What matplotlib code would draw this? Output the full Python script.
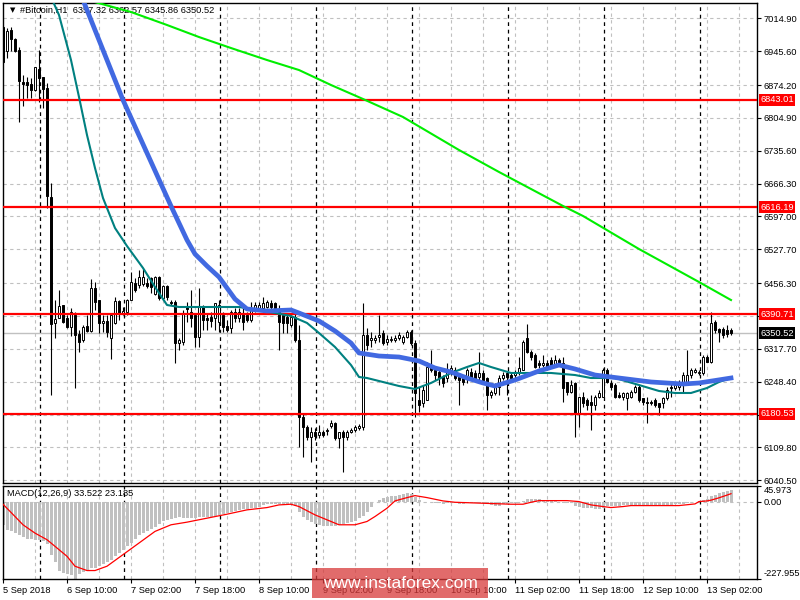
import numpy as np
import matplotlib.pyplot as plt
from matplotlib.patches import Rectangle

plt.rcParams['font.family'] = ['Liberation Sans', 'DejaVu Sans']

# H1 candles, bar 0 = first visible bar
opens = [6996.5, 6945.9, 6990.2, 6971.2, 6948.0, 6880.5, 6880.5, 6876.3, 6863.6, 6907.9,
         6891.1, 6867.9, 6637.9, 6372.3, 6382.7, 6410.1, 6382.7, 6363.7, 6389.0, 6348.9,
         6336.3, 6365.8, 6355.3, 6445.9, 6420.6, 6372.2, 6376.4, 6340.5, 6372.2, 6418.5,
         6393.2, 6395.3, 6420.6, 6456.5, 6452.3, 6454.4, 6456.5, 6467.0, 6433.3, 6469.1,
         6424.9, 6450.2, 6416.4, 6416.4, 6329.9, 6332.1, 6405.9, 6395.3, 6389.0, 6342.6,
         6405.9, 6382.7, 6384.8, 6382.7, 6374.3, 6389.0, 6365.8, 6361.6, 6395.3, 6382.7,
         6393.2, 6389.0, 6378.5, 6399.6, 6403.8, 6403.8, 6405.9, 6414.3, 6414.3, 6399.6,
         6389.0, 6384.8, 6367.9, 6384.8, 6336.3, 6173.8, 6152.7, 6131.6, 6142.2, 6135.8,
         6142.2, 6144.3, 6154.8, 6161.2, 6129.5, 6142.2, 6131.6, 6142.2, 6146.4, 6150.6,
         6152.7, 6346.8, 6336.3, 6336.3, 6342.6, 6351.0, 6332.1, 6336.3, 6336.3, 6340.5,
         6332.1, 6342.6, 6353.1, 6329.9, 6209.7, 6203.4, 6209.7, 6283.5, 6273.0, 6268.8,
         6258.2, 6256.1, 6268.8, 6273.0, 6258.2, 6256.1, 6258.2, 6268.8, 6266.7, 6258.2,
         6266.7, 6256.1, 6220.3, 6224.5, 6237.1, 6256.1, 6266.7, 6262.4, 6262.4, 6268.8,
         6273.0, 6340.5, 6311.0, 6304.6, 6287.8, 6283.5, 6287.8, 6294.1, 6283.5, 6294.1,
         6287.8, 6247.7, 6226.6, 6245.6, 6182.3, 6216.0, 6209.7, 6205.5, 6199.1, 6216.0,
         6216.0, 6273.0, 6245.6, 6241.3, 6220.3, 6216.0, 6213.9, 6216.0, 6226.6, 6237.1,
         6213.9, 6205.5, 6205.5, 6209.7, 6203.4, 6203.4, 6213.9, 6237.1, 6235.0, 6237.1,
         6245.6, 6247.7, 6262.4, 6268.8, 6266.7, 6266.7, 6300.4, 6289.9, 6374.3, 6359.5,
         6359.5, 6357.4, 6357.32]
highs = [6998.6, 6994.4, 6996.5, 6973.3, 6954.4, 6895.3, 6891.1, 6889.0, 6912.2, 6948.0,
         6891.1, 6878.4, 6667.5, 6420.6, 6441.7, 6410.1, 6389.0, 6403.8, 6395.3, 6357.4,
         6367.9, 6389.0, 6464.9, 6458.6, 6420.6, 6389.0, 6389.0, 6389.0, 6427.0, 6420.6,
         6405.9, 6422.8, 6479.7, 6467.0, 6483.9, 6486.0, 6467.0, 6469.1, 6471.3, 6471.3,
         6452.3, 6452.3, 6420.6, 6420.6, 6340.5, 6399.6, 6416.4, 6441.7, 6393.2, 6445.9,
         6410.1, 6393.2, 6395.3, 6414.3, 6420.6, 6395.3, 6378.5, 6399.6, 6403.8, 6403.8,
         6403.8, 6395.3, 6416.4, 6416.4, 6416.4, 6427.0, 6420.6, 6420.6, 6416.4, 6410.1,
         6393.2, 6389.0, 6389.0, 6393.2, 6367.9, 6182.3, 6156.9, 6152.7, 6150.6, 6156.9,
         6146.4, 6150.6, 6167.5, 6163.3, 6142.2, 6146.4, 6146.4, 6150.6, 6156.9, 6159.1,
         6414.3, 6361.6, 6353.1, 6346.8, 6389.0, 6357.4, 6346.8, 6344.7, 6346.8, 6353.1,
         6346.8, 6357.4, 6357.4, 6336.3, 6237.1, 6241.3, 6289.9, 6315.2, 6277.2, 6279.3,
         6262.4, 6287.8, 6283.5, 6279.3, 6262.4, 6262.4, 6277.2, 6277.2, 6273.0, 6311.0,
         6273.0, 6258.2, 6230.8, 6245.6, 6262.4, 6268.8, 6268.8, 6268.8, 6273.0, 6300.4,
         6336.3, 6370.0, 6315.2, 6308.9, 6294.1, 6304.6, 6294.1, 6300.4, 6304.6, 6298.3,
         6300.4, 6247.7, 6251.9, 6247.7, 6216.0, 6226.6, 6213.9, 6220.3, 6220.3, 6230.8,
         6277.2, 6277.2, 6251.9, 6245.6, 6226.6, 6226.6, 6226.6, 6230.8, 6241.3, 6241.3,
         6213.9, 6216.0, 6209.7, 6213.9, 6203.4, 6216.0, 6237.1, 6245.6, 6245.6, 6251.9,
         6268.8, 6315.2, 6277.2, 6277.2, 6273.0, 6304.6, 6304.6, 6395.3, 6378.5, 6361.6,
         6363.7, 6367.9, 6362.57]
lows = [6920.6, 6931.2, 6945.9, 6943.8, 6796.1, 6829.9, 6846.8, 6846.8, 6861.5, 6838.3,
        6825.7, 6614.7, 6220.3, 6340.5, 6382.7, 6372.2, 6361.6, 6344.7, 6235.0, 6311.0,
        6332.1, 6353.1, 6353.1, 6399.6, 6351.0, 6353.1, 6342.6, 6296.2, 6370.0, 6378.5,
        6389.0, 6389.0, 6420.6, 6437.5, 6446.0, 6450.2, 6446.0, 6435.4, 6431.2, 6420.6,
        6420.6, 6420.6, 6410.1, 6287.8, 6315.2, 6325.7, 6374.3, 6363.7, 6321.5, 6321.5,
        6357.4, 6357.4, 6363.7, 6357.4, 6353.1, 6353.1, 6353.1, 6351.0, 6374.3, 6374.3,
        6357.4, 6374.3, 6374.3, 6395.3, 6399.6, 6399.6, 6403.8, 6399.6, 6399.6, 6315.2,
        6351.0, 6351.0, 6363.7, 6332.1, 6110.5, 6089.4, 6125.3, 6078.9, 6125.3, 6129.5,
        6131.6, 6135.8, 6150.6, 6125.3, 6108.4, 6057.8, 6125.3, 6140.1, 6142.2, 6146.4,
        6146.4, 6315.2, 6321.5, 6329.9, 6332.1, 6325.7, 6325.7, 6332.1, 6332.1, 6336.3,
        6327.8, 6340.5, 6325.7, 6173.8, 6184.4, 6195.0, 6209.7, 6268.8, 6251.9, 6241.3,
        6237.1, 6247.7, 6262.4, 6251.9, 6199.1, 6241.3, 6245.6, 6251.9, 6251.9, 6251.9,
        6247.7, 6188.6, 6213.9, 6220.3, 6220.3, 6251.9, 6220.3, 6247.7, 6256.1, 6262.4,
        6273.0, 6308.9, 6294.1, 6277.2, 6277.2, 6279.3, 6273.0, 6277.2, 6279.3, 6283.5,
        6205.5, 6220.3, 6224.5, 6131.6, 6152.7, 6195.0, 6188.6, 6146.4, 6188.6, 6213.9,
        6216.0, 6245.6, 6230.8, 6213.9, 6213.9, 6209.7, 6188.6, 6213.9, 6224.5, 6205.5,
        6199.1, 6161.2, 6199.1, 6195.0, 6178.0, 6192.9, 6209.7, 6216.0, 6230.8, 6230.8,
        6224.5, 6245.6, 6256.1, 6266.7, 6262.4, 6262.4, 6289.9, 6287.8, 6351.0, 6332.1,
        6340.5, 6342.6, 6345.86]
closes = [6922.7, 6988.1, 6971.2, 6945.9, 6882.6, 6876.3, 6874.2, 6863.6, 6912.2, 6889.0,
          6865.8, 6640.0, 6370.0, 6380.6, 6408.0, 6374.3, 6363.7, 6395.3, 6346.8, 6332.1,
          6363.7, 6355.3, 6445.9, 6416.4, 6372.2, 6376.4, 6353.1, 6389.0, 6418.5, 6393.2,
          6397.4, 6420.6, 6458.6, 6441.7, 6469.1, 6469.1, 6450.2, 6448.1, 6469.1, 6424.9,
          6450.2, 6427.0, 6414.3, 6329.9, 6336.3, 6393.2, 6401.7, 6382.7, 6342.6, 6405.9,
          6378.5, 6378.5, 6376.4, 6414.3, 6410.1, 6363.7, 6357.4, 6395.3, 6382.7, 6395.3,
          6374.3, 6378.5, 6399.6, 6410.1, 6410.1, 6414.3, 6416.4, 6405.9, 6403.8, 6374.3,
          6372.2, 6372.2, 6384.8, 6336.3, 6173.8, 6152.7, 6131.6, 6142.2, 6133.7, 6142.2,
          6135.8, 6146.4, 6161.2, 6129.5, 6142.2, 6131.6, 6142.2, 6146.4, 6152.7, 6154.8,
          6346.8, 6325.7, 6340.5, 6340.5, 6346.8, 6329.9, 6338.4, 6338.4, 6340.5, 6346.8,
          6342.6, 6353.1, 6329.9, 6224.5, 6199.1, 6230.8, 6279.3, 6273.0, 6262.4, 6256.1,
          6245.6, 6268.8, 6277.2, 6256.1, 6251.9, 6247.7, 6273.0, 6256.1, 6256.1, 6266.7,
          6251.9, 6220.3, 6226.6, 6237.1, 6256.1, 6262.4, 6258.2, 6256.1, 6268.8, 6277.2,
          6332.1, 6311.0, 6300.4, 6279.3, 6283.5, 6287.8, 6277.2, 6283.5, 6294.1, 6287.8,
          6235.0, 6226.6, 6241.3, 6182.3, 6216.0, 6203.4, 6199.1, 6199.1, 6216.0, 6224.5,
          6273.0, 6247.7, 6237.1, 6216.0, 6216.0, 6224.5, 6224.5, 6226.6, 6237.1, 6209.7,
          6205.5, 6203.4, 6203.4, 6199.1, 6195.0, 6213.9, 6230.8, 6235.0, 6241.3, 6245.6,
          6262.4, 6262.4, 6273.0, 6273.0, 6268.8, 6300.4, 6289.9, 6372.2, 6357.4, 6353.1,
          6346.8, 6348.9, 6350.52]

# moving averages (bar index, price)
blue_bars = [20, 26, 30, 36, 42, 46, 48, 51, 54, 58, 61, 66, 72, 74, 79, 83, 87, 89, 94, 99,
             104, 108, 112, 116, 120, 123, 128, 134, 139, 143, 148, 154, 162, 170, 174, 178,
             182]
blue_vals = [7053.5, 6926.9, 6842.5, 6730.7, 6618.9, 6547.2, 6517.7, 6492.4, 6469.1, 6422.7,
             6401.7, 6397.5, 6399.6, 6393.2, 6376.4, 6355.3, 6329.9, 6308.9, 6302.5, 6300.4,
             6292.0, 6277.2, 6268.8, 6256.1, 6245.6, 6239.2, 6251.9, 6270.9, 6283.5, 6275.1,
             6262.4, 6256.1, 6247.7, 6243.4, 6245.6, 6250.8, 6256.1]
teal_bars = [12, 14, 17, 19, 21, 23, 25, 28, 31, 35, 38, 41, 44, 50, 59, 68, 72, 76, 79, 83,
             87, 89, 91, 99, 103, 107, 112, 116, 119, 122, 127, 137, 143, 147, 153, 159, 164,
             168, 172, 176, 179, 182]
teal_vals = [7060.0, 7021.9, 6926.9, 6848.9, 6768.7, 6699.1, 6635.8, 6572.5, 6534.5, 6488.2,
             6448.1, 6410.1, 6405.9, 6405.9, 6405.9, 6393.2, 6386.9, 6372.2, 6351.0, 6321.5,
             6283.5, 6258.2, 6256.1, 6239.2, 6232.9, 6245.6, 6266.7, 6279.3, 6287.8, 6279.3,
             6266.7, 6266.7, 6262.4, 6256.1, 6256.1, 6241.3, 6228.7, 6224.5, 6224.5, 6235.0,
             6247.7, 6256.1]
green_bars = [22, 32, 41, 49, 57, 66, 74, 82, 90, 100, 114, 124, 140, 145, 159, 174, 182]
green_vals = [7051.4, 7028.2, 7000.8, 6975.4, 6952.2, 6926.9, 6905.8, 6874.2, 6844.7, 6806.7,
              6737.1, 6690.7, 6619.0, 6597.9, 6528.2, 6458.6, 6420.6]

# MACD(12,26,9): histogram per bar and signal line
macd_hist = [-70.9, -83.6, -88.5, -93.5, -100.3, -106.2, -110.1, -111.1, -113.1, -113.1,
             -118.0, -125.8, -157.3, -178.9, -206.3, -211.3, -214.2, -218.0, -227.955, -214.2,
             -208.3, -201.4, -196.5, -196.5, -191.6, -184.8, -178.9, -172.0, -162.2, -152.4,
             -142.5, -132.7, -122.9, -110.1, -100.3, -93.5, -86.6, -80.7, -76.8, -66.9,
             -59.1, -54.2, -51.2, -49.3, -47.3, -49.3, -49.3, -49.3, -49.3, -47.3,
             -47.3, -45.4, -44.4, -41.4, -39.5, -37.5, -34.5, -31.6, -27.7, -24.7,
             -22.8, -21.8, -19.8, -17.9, -15.9, -10.0, -8.0, -7.1, -6.1, -7.1,
             -8.0, -8.0, -10.0, -12.0, -29.6, -44.4, -54.2, -61.1, -66.9, -70.9,
             -73.8, -73.8, -73.8, -71.9, -68.9, -66.9, -64.0, -61.1, -57.1, -49.3,
             -41.4, -29.6, -14.9, -2.1, 4.7, 9.6, 12.6, 15.5, 17.5, 19.4,
             22.4, 24.3, 21.4, 14.5, 4.7, -0.5, -2.2, -2.2, -3.1, -5.1,
             -7.1, -5.1, -5.1, -5.1, -6.1, -6.1, -5.1, -5.1, -5.1, -5.1,
             -5.1, -5.1, -10.0, -12.0, -12.0, -6.0, -6.0, -5.0, -4.0, -2.0,
             3.0, 6.0, 8.0, 8.0, 7.0, 5.0, 3.0, 2.0, 1.0, -1.0,
             -3.0, -5.0, -5.0, -12.0, -15.0, -17.9, -19.8, -19.8, -21.8, -21.8,
             -19.8, -14.0, -13.0, -12.0, -12.0, -11.0, -11.0, -11.0, -10.0, -11.0,
             -12.0, -13.0, -13.0, -13.0, -12.0, -11.0, -10.0, -9.0, -8.0, -7.0,
             -6.0, -4.0, -2.0, 0.0, 3.0, 5.0, 8.0, 15.0, 20.0, 25.0,
             28.0, 31.0, 33.522]
sig_bars = [0, 3, 5, 8, 11, 13, 16, 18, 21, 23, 26, 30, 34, 38, 42, 46, 51, 56, 61, 66,
            69, 72, 74, 78, 82, 84, 88, 91, 93, 96, 98, 101, 103, 106, 110, 113, 120, 127,
            130, 132, 134, 141, 144, 147, 150, 152, 155, 157, 169, 173, 174, 176, 177, 179,
            181, 182]
sig_vals = [-8.0, -44.4, -68.9, -93.5, -113.1, -132.7, -162.2, -191.6, -204.4, -204.4,
            -191.6, -157.3, -122.9, -88.5, -68.9, -61.1, -49.3, -37.5, -24.7, -17.9,
            -10.0, -8.0, -14.9, -39.5, -59.1, -68.9, -68.9, -59.1, -44.4, -19.8,
            1.8, 11.6, 17.5, 11.6, 1.8, -2.2, -5.1, -8.0, -8.0, -2.2,
            2.7, 2.7, -0.2, -10.0, -14.9, -17.9, -14.9, -12.0, -12.0, -7.1,
            -0.2, 1.8, 4.0, 11.0, 19.0, 23.185]

levels = [6843.01, 6616.19, 6390.71, 6180.53]
last_price = 6350.52
price_ticks = [7014.90, 6945.60, 6874.20, 6804.90, 6735.60, 6666.30, 6597.00, 6527.70,
               6456.30, 6387.00, 6317.70, 6248.40, 6179.10, 6109.80, 6040.50]
hidden_ticks = [6387.00, 6179.10]  # covered by the level boxes in the terminal
date_labels = ['5 Sep 2018', '6 Sep 10:00', '7 Sep 02:00', '7 Sep 18:00', '8 Sep 10:00',
               '9 Sep 02:00', '9 Sep 18:00', '10 Sep 10:00', '11 Sep 02:00', '11 Sep 18:00',
               '12 Sep 10:00', '13 Sep 02:00']
day_starts = [9, 30, 54, 78, 102, 126, 150, 174]

n = len(closes)
idx = np.arange(n)
o = np.array(opens)
h = np.array(highs)
l = np.array(lows)
c = np.array(closes)

FS = 6.7

fig = plt.figure(figsize=(8, 6), dpi=100)
ax = fig.add_axes([3 / 800, 117 / 600, 754 / 800, 480 / 600])
ax2 = fig.add_axes([3 / 800, 21.5 / 600, 754 / 800, 92.5 / 600], sharex=ax)

grid_kw = dict(color='#C0C0C0', lw=0.8, ls=(0, (3, 3)), zorder=0.5)
sep_kw = dict(color='black', lw=0.9, ls=(0, (3, 3)), zorder=0.6)

# --- main price panel ---
for t in price_ticks:
    ax.axhline(t, **grid_kw)
for a in (ax, ax2):
    for g in range(8, 189, 8):
        a.axvline(g, **grid_kw)
    for d in day_starts:
        a.axvline(d + 0.2, **sep_kw)

ax.axhline(last_price, color='#C0C0C0', lw=1, zorder=1)

ax.vlines(idx, l, h, color='black', lw=0.8, zorder=2)
up = c >= o
body_lo = np.minimum(o, c)
body_h = np.maximum(np.abs(c - o), 0.8)
ax.bar(idx[up], body_h[up], bottom=body_lo[up], width=0.66, facecolor='white',
       edgecolor='black', lw=0.7, zorder=3)
ax.bar(idx[~up], body_h[~up], bottom=body_lo[~up], width=0.66, facecolor='black',
       edgecolor='black', lw=0.7, zorder=3)

for lv in levels:
    ax.axhline(lv, color='#FF0000', lw=1.6, zorder=3.5)

ax.plot(green_bars, green_vals, color='#00EE00', lw=1.5, zorder=4)
ax.plot(teal_bars, teal_vals, color='#008080', lw=1.5, zorder=4)
ax.plot(blue_bars, blue_vals, color='#4169E1', lw=3.4, zorder=4.5, solid_joinstyle='round')

ax.set_xlim(0, 188.5)
ax.set_ylim(6034.6, 7047.2)
ax.yaxis.tick_right()
ax.set_yticks(price_ticks)
ax.set_yticklabels(['' if t in hidden_ticks else f'{t:.2f}' for t in price_ticks])
ax.tick_params(axis='y', direction='out', length=3, width=0.8, pad=2, labelsize=FS)
ax.tick_params(axis='x', which='both', bottom=False, labelbottom=False)

for lv, col in zip(levels + [last_price], ['#FF0000'] * 4 + ['black']):
    ax.annotate(f'{lv:.2f}', xy=(1, lv), xycoords=('axes fraction', 'data'),
                xytext=(2.5, 0), textcoords='offset points', ha='left', va='center',
                color='white', fontsize=FS, annotation_clip=False, zorder=10,
                bbox=dict(boxstyle='square,pad=0.15', fc=col, ec='none'))

ax.text(7 / 754, 1 - 7 / 480, '\u25bc', transform=ax.transAxes, fontsize=5,
        family=['DejaVu Sans'], va='center', ha='left', zorder=1)
ax.text(17 / 754, 1 - 7 / 480, '#Bitcoin,H1  6357.32 6362.57 6345.86 6350.52',
        transform=ax.transAxes, fontsize=FS, va='center', ha='left', zorder=1)

# --- MACD panel ---
ax2.axhline(0, **grid_kw)
ax2.bar(idx, macd_hist, width=0.75, color='#C0C0C0', zorder=2)
ax2.plot(sig_bars, sig_vals, color='#FF0000', lw=0.9, zorder=3)
ax2.set_ylim(-227.955, 45.973)
ax2.yaxis.tick_right()
ax2.set_yticks([45.973, 0, -227.955])
ax2.set_yticklabels(['45.973', '0.00', '-227.955'])
ax2.tick_params(axis='y', direction='out', length=3, width=0.8, pad=2, labelsize=FS)
ylabs = ax2.get_yticklabels()
ylabs[0].set_verticalalignment('top')
ylabs[2].set_verticalalignment('bottom')
ax2.text(4 / 754, 1 - 8 / 92.5, 'MACD(12,26,9) 33.522 23.185', transform=ax2.transAxes,
         fontsize=FS, va='center', ha='left', zorder=5)

ax2.set_xticks(range(0, 177, 16))
ax2.set_xticklabels(date_labels)
ax2.tick_params(axis='x', direction='out', length=3, width=0.8, pad=2.5, labelsize=FS)
for lab in ax2.get_xticklabels():
    lab.set_horizontalalignment('left')

for a in (ax, ax2):
    for s in a.spines.values():
        s.set_color('black')
        s.set_linewidth(1)

# watermark
fig.add_artist(Rectangle((312 / 800, 2 / 600), 176 / 800, 30 / 600, transform=fig.transFigure,
                         facecolor='#D83A3A', alpha=0.75, edgecolor='none', zorder=20))
fig.text(400 / 800, 17 / 600, 'www.instaforex.com', color='white', fontsize=12.5,
         ha='center', va='center', zorder=21)

fig.savefig('out.png', dpi=100)
